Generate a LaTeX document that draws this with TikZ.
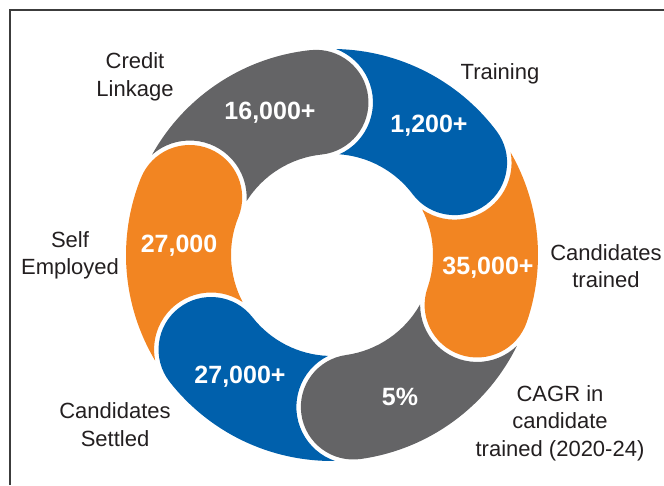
\documentclass[tikz,border=0pt]{standalone}
\usepackage{fontspec}
\setmainfont{Liberation Sans}
\definecolor{rgray}{HTML}{646466}
\definecolor{rblue}{HTML}{0060AC}
\definecolor{rorange}{HTML}{F28522}
\definecolor{labelc}{HTML}{231F20}
\definecolor{framec}{HTML}{3C3C3C}
\tikzset{
  valtext/.style={text=white, font=\fontsize{25}{30}\selectfont\bfseries, anchor=base, inner sep=0pt},
  labtext/.style={text=labelc, font=\fontsize{22}{27.5}\selectfont, align=center, inner sep=0pt},
  framel/.style={draw=framec, line width=1.5pt}
}
\begin{document}
\begin{tikzpicture}[x=1pt,y=1pt]
\useasboundingbox (0,0) rectangle (664,485);
% frame
\coordinate (fbl) at (10,0);
\coordinate (ftl) at (10,475);
\coordinate (ftr) at (664,475);
\draw[framel] (fbl) -- (ftl) -- (ftr);
% ring: centre C, outer 206, inner 101, lobe radius 52.5, gap 4.5
\coordinate (C) at (332,230);
\foreach \a/\b/\c in {158/96/rgray, 96/37/rblue, 37/-19/rorange, -19/-82/rgray, -82/-142/rblue, -142/-202/rorange}{
  \pgfmathsetmacro\ao{\a-7.155}
  \pgfmathsetmacro\ai{\a-10.23}
  \fill[\c] ([shift={(C)}]\ao:206)
    arc[start angle=\ao, end angle=\b, radius=206]
    arc[start angle=\b, end angle=\b-180, radius=52.5]
    arc[start angle=\b, end angle=\ai, radius=101]
    arc[start angle=\a-161.65, end angle=\a-26.76, radius=57] -- cycle;
}
% values
\node[valtext] (v1) at (270,365) {16,000+};
\node[valtext] (v2) at (429,352) {1,200+};
\node[valtext] (v3) at (488,210) {35,000+};
\node[valtext] (v4) at (400,80) {5\%};
\node[valtext] (v5) at (240,102) {27,000+};
\node[valtext] (v6) at (179,232) {27,000};
% labels
\node[labtext] (l1) at (135,408) {Credit\\Linkage};
\node[labtext] (l2) at (500,411.5) {Training};
\node[labtext] (l3) at (606,219) {Candidates\\trained};
\node[labtext] (l4) at (560,61.7) {CAGR in\\candidate\\trained (2020-24)};
\node[labtext] (l5) at (70,229.7) {Self\\Employed};
\node[labtext] (l6) at (115,60.5) {Candidates\\Settled};
\end{tikzpicture}
\end{document}
